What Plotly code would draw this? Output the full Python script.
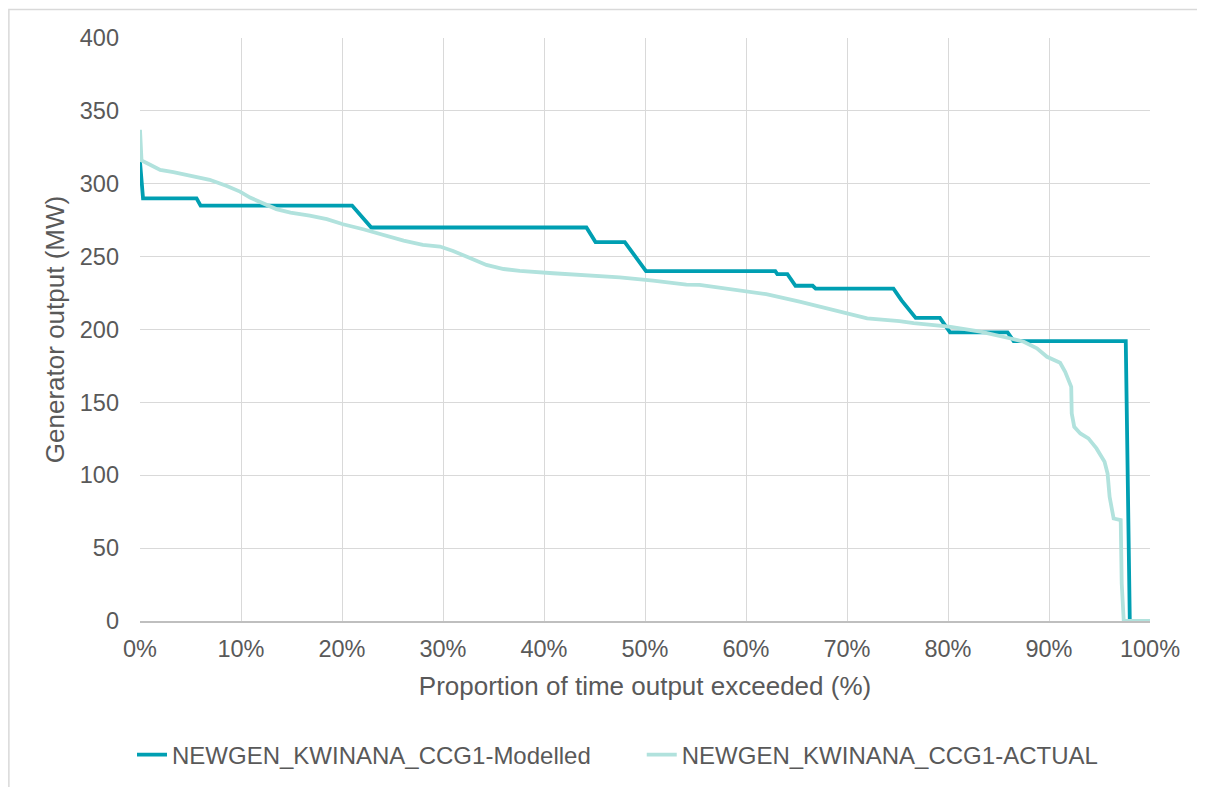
import plotly.graph_objects as go

# Duration curves: proportion of time exceeded (%) vs generator output (MW)
modelled_pct = [0, 0.3, 5.6, 6.0, 21.0, 22.9, 44.2, 45.1, 48.0, 50.1, 62.9, 63.1, 64.1, 64.9,
                66.6, 66.9, 74.6, 75.4, 76.8, 79.2, 80.2, 85.9, 86.5, 97.6, 98.0, 100]
modelled_mw = [315, 290, 290, 285, 285, 270, 270, 260, 260, 240, 240, 238, 238, 230,
               230, 228, 228, 220, 208, 208, 198, 198, 192, 192, 0, 0]

actual_pct = [0, 0.15, 1.0, 2.0, 3.3, 5.6, 6.9, 8.6, 9.9, 10.9, 12.2, 13.5, 14.9, 16.8,
              18.5, 20.1, 22.1, 24.1, 26.1, 28.0, 29.7, 31.0, 32.7, 34.3, 36.0, 37.6,
              40.9, 44.2, 47.5, 50.8, 54.1, 55.4, 58.7, 62.0, 65.3, 68.0, 70.0, 72.0,
              75.2, 76.6, 80.1, 83.2, 86.1, 87.5, 88.8, 89.8, 91.1, 91.6, 92.2, 92.25,
              92.5, 93.1, 93.9, 94.7, 95.5, 95.8, 96.0, 96.4, 97.1, 97.2, 97.4, 100]
actual_mw = [337, 316, 313, 309.5, 308, 305, 302.7, 298.5, 294.6, 290.5, 286.7, 282.6, 280.2, 278.2,
             275.7, 272.2, 268.8, 264.9, 261, 258, 256.9, 253.9, 248.9, 244.3, 241.5, 240.2,
             238.6, 237.2, 235.8, 233.5, 230.8, 230.6, 227.6, 224.2, 219.1, 214.6, 210.6, 207.7,
             205.8, 204.3, 202, 198.5, 194, 191.6, 187.1, 181.3, 177.2, 171, 160.7, 142.4,
             133.2, 128.7, 125.3, 118.4, 109.2, 101.2, 85.2, 70.3, 69.2, 25.7, 0, 0]

x_ticks = list(range(0, 101, 10))
x_tick_text = [f"{v}%" for v in x_ticks]

TXT = '#595959'
GRID = '#d9d9d9'
FONT = 'Liberation Sans, Arial, sans-serif'

# plot area in figure pixels (page has an 8px body margin)
L, R, T, B = 132, 62.5, 30, 174
PW, PH = 1205 - L - R, 787 - T - B


def px_x(v):
    return (v - L) / PW


def px_y(v):
    return (PH + T - v) / PH


fig = go.Figure()

fig.add_trace(go.Scatter(
    x=modelled_pct, y=modelled_mw, mode='lines',
    name='NEWGEN_KWINANA_CCG1-Modelled',
    line=dict(color='#009FB2', width=3.8),
    legend='legend',
))
fig.add_trace(go.Scatter(
    x=actual_pct, y=actual_mw, mode='lines',
    name='NEWGEN_KWINANA_CCG1-ACTUAL',
    line=dict(color='#B1E2DD', width=3.8),
    legend='legend2',
))

# outer chart border (top + left visible)
fig.add_shape(type='rect', xref='paper', yref='paper',
              x0=px_x(0.8), x1=px_x(1230),
              y0=px_y(820), y1=px_y(1.5),
              line=dict(color='#d9d9d9', width=1.5), layer='below')

leg_common = dict(orientation='h', xanchor='left', yanchor='middle', y=px_y(747),
                  font=dict(size=24, color=TXT), bgcolor='rgba(0,0,0,0)')

fig.update_layout(
    width=1205, height=787,
    paper_bgcolor='white', plot_bgcolor='white',
    font=dict(family=FONT, color=TXT, size=23),
    margin=dict(l=L, r=R, t=T, b=B),
    showlegend=True,
    legend=dict(x=px_x(124), **leg_common),
    legend2=dict(x=px_x(634), **leg_common),
)

fig.update_xaxes(
    range=[0, 100],
    tickvals=x_ticks, ticktext=x_tick_text,
    showgrid=True, gridcolor=GRID, gridwidth=1.3,
    showline=True, linecolor='#bfbfbf', linewidth=1.5,
    zeroline=False,
    ticklabelstandoff=6,
    tickfont=dict(size=23.5, color=TXT),
    title=dict(text='Proportion of time output exceeded (%)', font=dict(size=26, color=TXT), standoff=16),
)

fig.update_yaxes(
    range=[0, 400], dtick=50,
    showgrid=True, gridcolor=GRID, gridwidth=1.3,
    zeroline=False, showline=False,
    ticklabelstandoff=20,
    tickfont=dict(size=23.5, color=TXT),
    title=dict(text='Generator output (MW)', font=dict(size=26, color=TXT), standoff=7),
)

fig.write_html("out.html")
